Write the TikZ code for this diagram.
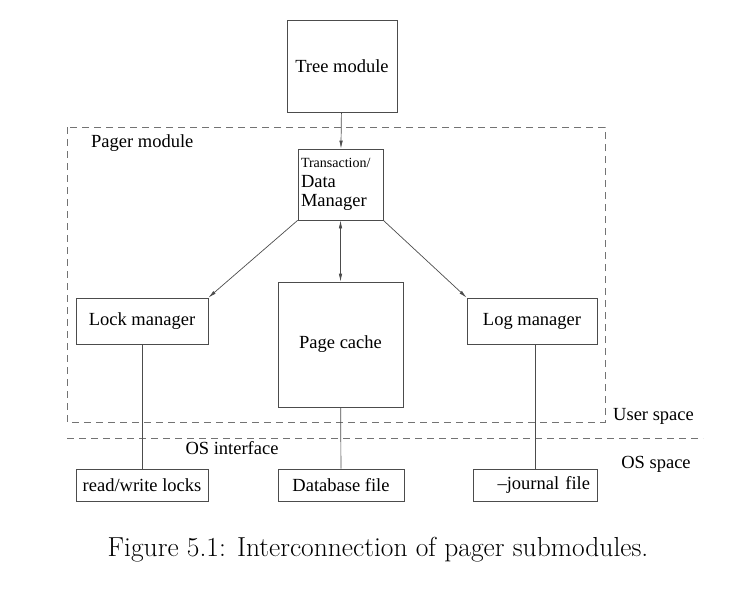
\documentclass[tikz,border=0pt]{standalone}
\usepackage{fontspec}
\newfontfamily\figfont[Ligatures=TeX]{Liberation Serif}
\usetikzlibrary{arrows.meta}
\tikzset{
  modbox/.style={draw=black!70, line width=0.7pt, font=\figfont\fontsize{18.5}{21}\selectfont, inner sep=0pt},
  filebox/.style={modbox, minimum height=32pt},
  region/.style={draw=black!55, line width=0.6pt, dash pattern=on 7pt off 5pt},
  conn/.style={draw=black!70, line width=0.7pt},
  arr/.style={conn, -{Latex[length=8pt,width=3.5pt]}},
  lbl/.style={font=\figfont\fontsize{18.5}{21}\selectfont, inner sep=0pt}
}
\begin{document}
\begin{tikzpicture}[x=1pt,y=-1pt]
  \useasboundingbox (0,0) rectangle (755,590);
  % regions
  \draw[region] (67,127) rectangle (605,422);
  \coordinate (osl) at (67,438);
  \coordinate (osr) at (703,438);
  \draw[region] (osl) -- (osr);
  \node[lbl, anchor=west] (pagerlbl) at (91,143) {Pager module};
  \node[lbl, anchor=west] (userlbl) at (613,416) {User space};
  \node[lbl] (oslbl) at (232,448) {OS interface};
  \node[lbl] (osspace) at (656,464) {OS space};
  % modules
  \node[modbox, minimum width=110pt, minimum height=92pt] (tree) at (342,66) {Tree module};
  \node[modbox, minimum width=85pt, minimum height=71pt, text width=79pt, align=left, inner xsep=3pt] (dm) at (340.5,184.5)
    {{\fontsize{14}{15}\selectfont Transaction/}\\[-1pt]Data\\[-2pt]Manager};
  \node[modbox, minimum width=132pt, minimum height=46pt] (lock) at (142,321) {Lock manager};
  \node[modbox, minimum width=125pt, minimum height=125pt] (cache) at (340.5,344.5) {Page cache};
  \node[modbox, minimum width=130pt, minimum height=46pt] (log) at (532,321) {Log manager};
  % files
  \node[filebox, minimum width=132pt] (locks) at (142,485) {read/write locks};
  \node[filebox, minimum width=126pt] (dbfile) at (341,485) {Database file};
  \node[filebox, text width=110pt, align=right, inner xsep=7pt] (journal) at (535,485) {--journal file};
  % connectors
  \draw[arr] (tree) -- (dm);
  \draw[arr, {Latex[length=8pt,width=3.5pt]}-{Latex[length=8pt,width=3.5pt]}] (dm) -- (cache);
  \draw[arr] (dm.south west) -- (lock.north east);
  \draw[arr] (dm.south east) -- (log.north west);
  \draw[conn] (lock) -- (locks);
  \draw[conn] (cache) -- (dbfile);
  \draw[conn] (journal.north |- log.south) -- (journal);
  % caption
  \node[font=\fontsize{27.5}{32}\selectfont] (caption) at (378,550) {Figure 5.1: Interconnection of pager submodules.};
\end{tikzpicture}
\end{document}
